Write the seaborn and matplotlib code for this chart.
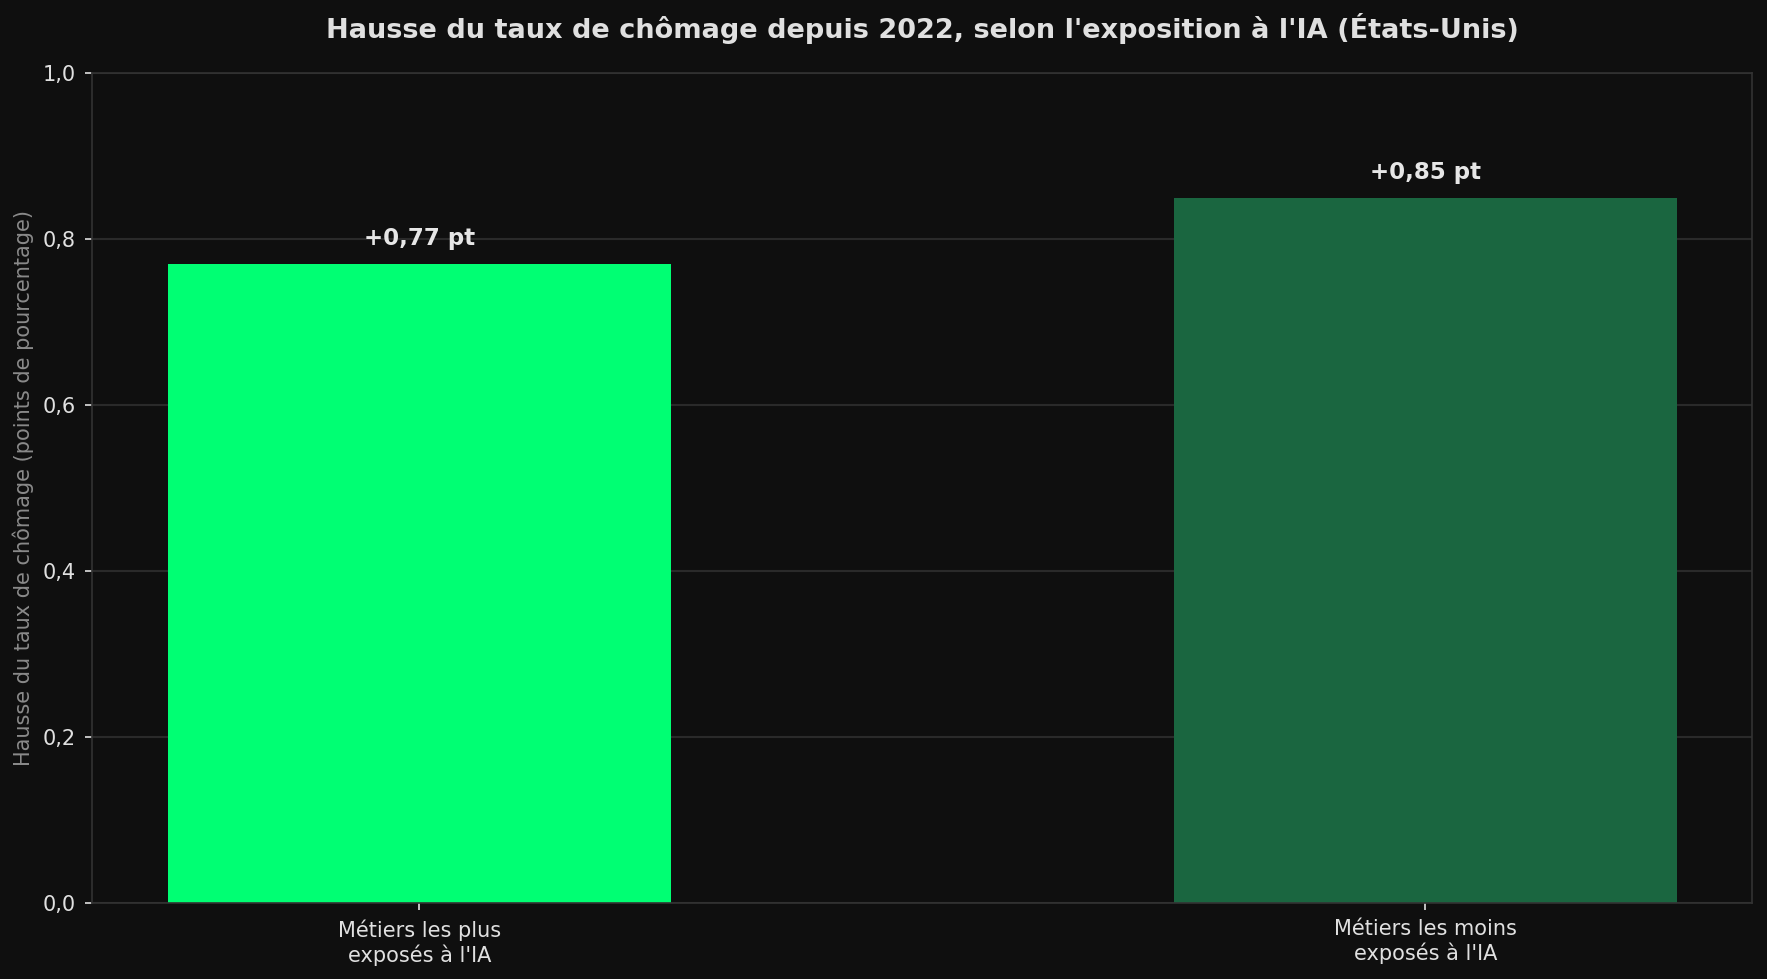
import matplotlib
matplotlib.use("Agg")
import matplotlib.pyplot as plt
import seaborn as sns
import pandas as pd

# data
categories = ["Métiers les plus\nexposés à l'IA", "Métiers les moins\nexposés à l'IA"]
hausse = [0.77, 0.85]
bar_colors = ["#00ff73", "#1a6640"]

df = pd.DataFrame({"categorie": categories, "hausse": hausse})

sns.set_style("dark")
plt.rcParams["font.family"] = ["DejaVu Sans"]

BG = "#0f0f0f"
fig, ax = plt.subplots(figsize=(11.78, 6.527), dpi=150)
fig.patch.set_facecolor(BG)
ax.set_facecolor(BG)

sns.barplot(data=df, x="categorie", y="hausse", hue="categorie", palette=bar_colors,
            width=0.5, saturation=1, legend=False, linewidth=0, ax=ax)

for i, v in enumerate(hausse):
    ax.text(i, v + 0.017, f"+{v:.2f} pt".replace(".", ","), ha="center", va="bottom",
            color="#e6e6e6", fontsize=11, fontweight="bold")

ax.set_xlim(-0.325, 1.325)
ax.set_ylim(0, 1.0)
ax.set_yticks([0, 0.2, 0.4, 0.6, 0.8, 1.0])
ax.set_yticklabels([f"{t:.1f}".replace(".", ",") for t in [0, 0.2, 0.4, 0.6, 0.8, 1.0]])
ax.yaxis.grid(True, color="#2a2a2a", linewidth=1)
ax.xaxis.grid(False)
ax.set_axisbelow(True)

ax.set_xlabel("")
ax.set_ylabel("Hausse du taux de chômage (points de pourcentage)", color="#8a8a8a", fontsize=10,
              labelpad=4)
ax.set_title("Hausse du taux de chômage depuis 2022, selon l'exposition à l'IA (États-Unis)",
             color="#e0e0e0", fontsize=13, fontweight="bold", pad=17)

ax.tick_params(colors="#e0e0e0", labelsize=10, length=3.5, pad=4.5, left=True, bottom=True)
for s in ax.spines.values():
    s.set_color("#333333")
    s.set_visible(True)

fig.subplots_adjust(left=0.0523, right=0.9917, top=0.925, bottom=0.078)
plt.savefig("out.png", dpi=150, facecolor=BG)
